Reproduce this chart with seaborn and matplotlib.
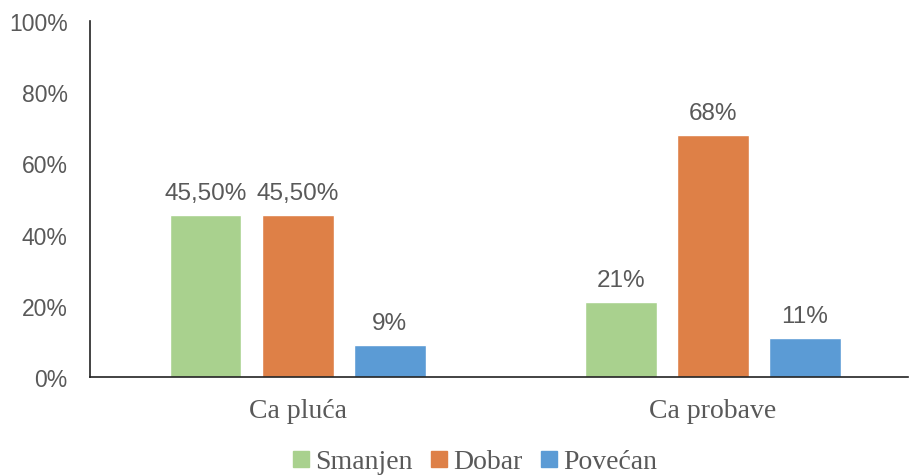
import pandas as pd
import seaborn as sns
import matplotlib.pyplot as plt
from matplotlib.lines import Line2D

# === Data ===
categories = ["Ca pluća", "Ca probave"]
series = ["Smanjen", "Dobar", "Povećan"]
values = {
    "Smanjen": [45.5, 21],
    "Dobar": [45.5, 68],
    "Povećan": [9, 11],
}
bar_labels = {
    "Smanjen": ["45,50%", "21%"],
    "Dobar": ["45,50%", "68%"],
    "Povećan": ["9%", "11%"],
}
yticks = [0, 20, 40, 60, 80, 100]
colors = ["#A9D18E", "#DE8047", "#5B9BD5"]

rows = []
for s in series:
    for c, v in zip(categories, values[s]):
        rows.append({"kategorija": c, "status": s, "vrijednost": v})
df = pd.DataFrame(rows)

# === Plot ===
sns.set_style("white")
plt.rcParams["font.family"] = ["Liberation Sans", "DejaVu Sans"]
text_gray = "#595959"
serif = ["Liberation Serif", "DejaVu Serif"]

fig = plt.figure(figsize=(9.12, 4.77), dpi=100)
ax = fig.add_axes([0.0987, 0.2075, 0.8970, 0.7464])

sns.barplot(data=df, x="kategorija", y="vrijednost", hue="status",
            hue_order=series, palette=colors, width=0.665, gap=0.22,
            saturation=1, legend=False, ax=ax)

for container, s in zip(ax.containers, series):
    ax.bar_label(container, labels=bar_labels[s], padding=8,
                 fontsize=17.5, color=text_gray)

ax.set_ylim(0, 100)
ax.set_xlim(-0.5, 1.47)
ax.set_yticks(yticks)
ax.set_yticklabels([f"{t}%" for t in yticks], fontsize=16.5, color=text_gray)
ax.set_xticks(range(len(categories)))
ax.set_xticklabels(categories, fontsize=20, color=text_gray, family=serif)
ax.tick_params(axis="y", length=0, pad=16)
ax.tick_params(axis="x", length=0, pad=15)
ax.set_xlabel("")
ax.set_ylabel("")

for side in ["top", "right"]:
    ax.spines[side].set_visible(False)
for side in ["left", "bottom"]:
    ax.spines[side].set_color("#222222")
    ax.spines[side].set_linewidth(1.2)

# === Legend ===
handles = [Line2D([0], [0], marker="s", linestyle="", markersize=11,
                  markerfacecolor=c, markeredgecolor=c) for c in colors]
fig.legend(handles, series, loc="center", bbox_to_anchor=(0.52, 0.03),
           ncol=3, frameon=False, handlelength=0.7, handletextpad=0.15,
           columnspacing=0.6, borderpad=0, prop={"family": serif, "size": 20},
           labelcolor=text_gray)

plt.savefig("out.png", dpi=100)
